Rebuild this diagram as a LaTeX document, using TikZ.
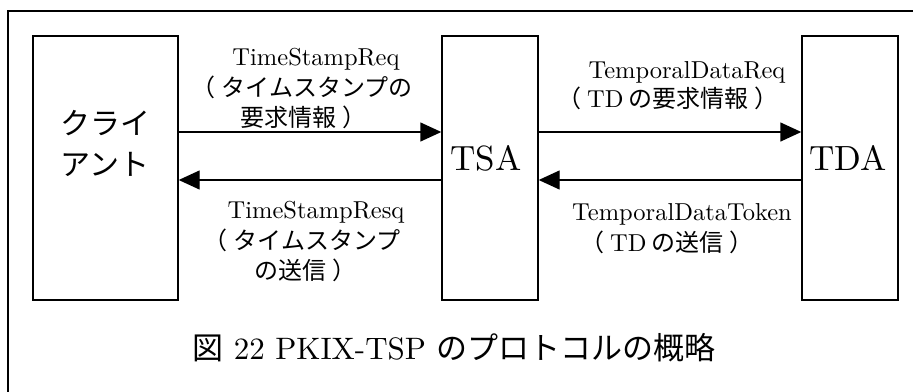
\documentclass[tikz,border=0pt]{standalone}
\usepackage{fontspec}
\setmainfont{lmroman10-regular.otf}
\newfontfamily\jp{Noto Sans CJK JP}
% full-width brackets with the mark centred in its cell
\newcommand\lpar{\kern-.25em（\kern.25em}
\newcommand\rpar{\kern.25em）\kern-.25em}
\usetikzlibrary{arrows.meta}
\tikzset{
  party/.style={draw, line width=1.4pt, minimum width=#1, minimum height=264pt, inner sep=0pt},
  msg/.style={line width=1.4pt, -{Triangle[length=21pt,width=19pt]}},
  lat/.style={anchor=base, inner sep=0pt, font=\fontsize{24.5}{28}\selectfont},
  jpl/.style={anchor=base, inner sep=0pt, font=\fontsize{24}{28}\selectfont\jp},
  bigjp/.style={anchor=base, inner sep=0pt, font=\fontsize{30}{34}\selectfont\jp},
  bigl/.style={anchor=base, inner sep=0pt, font=\fontsize{35}{40}\selectfont},
}
\begin{document}
\begin{tikzpicture}[x=1pt, y=-1pt]
\useasboundingbox (0,0) rectangle (913,391);
% outer frame (right and bottom edges fall outside the page)
\draw[line width=2pt] (8,400) -- (8,11) -- (920,11);

% the three parties
\node[party=145pt] (cl)  at (105.5,168) {};
\node[party=96pt]  (tsa) at (490,168) {};
\node[party=96pt]  (tda) at (850,168) {};

\node[bigjp] (clA) at (105,134) {クライ};
\node[bigjp] (clB) at (105,175) {アント};
\node[bigl] (tsaT) at (486,170) {TSA};
\node[bigl] (tdaT) at (848,170) {TDA};

% messages
\draw[msg] ([yshift=36pt]cl.east) -- ([yshift=36pt]tsa.west);
\draw[msg] ([yshift=-12pt]tsa.west) -- ([yshift=-12pt]cl.east);
\draw[msg] ([yshift=36pt]tsa.east) -- ([yshift=36pt]tda.west);
\draw[msg] ([yshift=-12pt]tda.west) -- ([yshift=-12pt]tsa.east);

% message labels
\node[lat] (q1) at (316,65) {TimeStampReq};
\node[jpl] (q2) at (305,96) {\lpar タイムスタンプの};
\node[jpl] (q3) at (300,126) {要求情報\rpar};

\node[lat] (d1) at (687,78) {TemporalDataReq};
\node[jpl] (d2) at (668,107) {\lpar{\fontsize{24.5}{28}\rmfamily TD} の要求情報\rpar};

\node[lat] (r1) at (316,218) {TimeStampResq};
\node[jpl] (r2) at (305,249) {\lpar タイムスタンプ};
\node[jpl] (r3) at (302,279) {の送信\rpar};

\node[lat] (t1) at (682,220) {TemporalDataToken};
\node[jpl] (t2) at (667,251) {\lpar{\fontsize{24.5}{28}\rmfamily TD} の送信\rpar};

% caption
\node[anchor=base, inner sep=0pt, font=\fontsize{31}{36}\selectfont] (cap) at (454,359)
  {{\jp 図} 22 PKIX-TSP {\jp のプロトコルの概略}};
\end{tikzpicture}
\end{document}
